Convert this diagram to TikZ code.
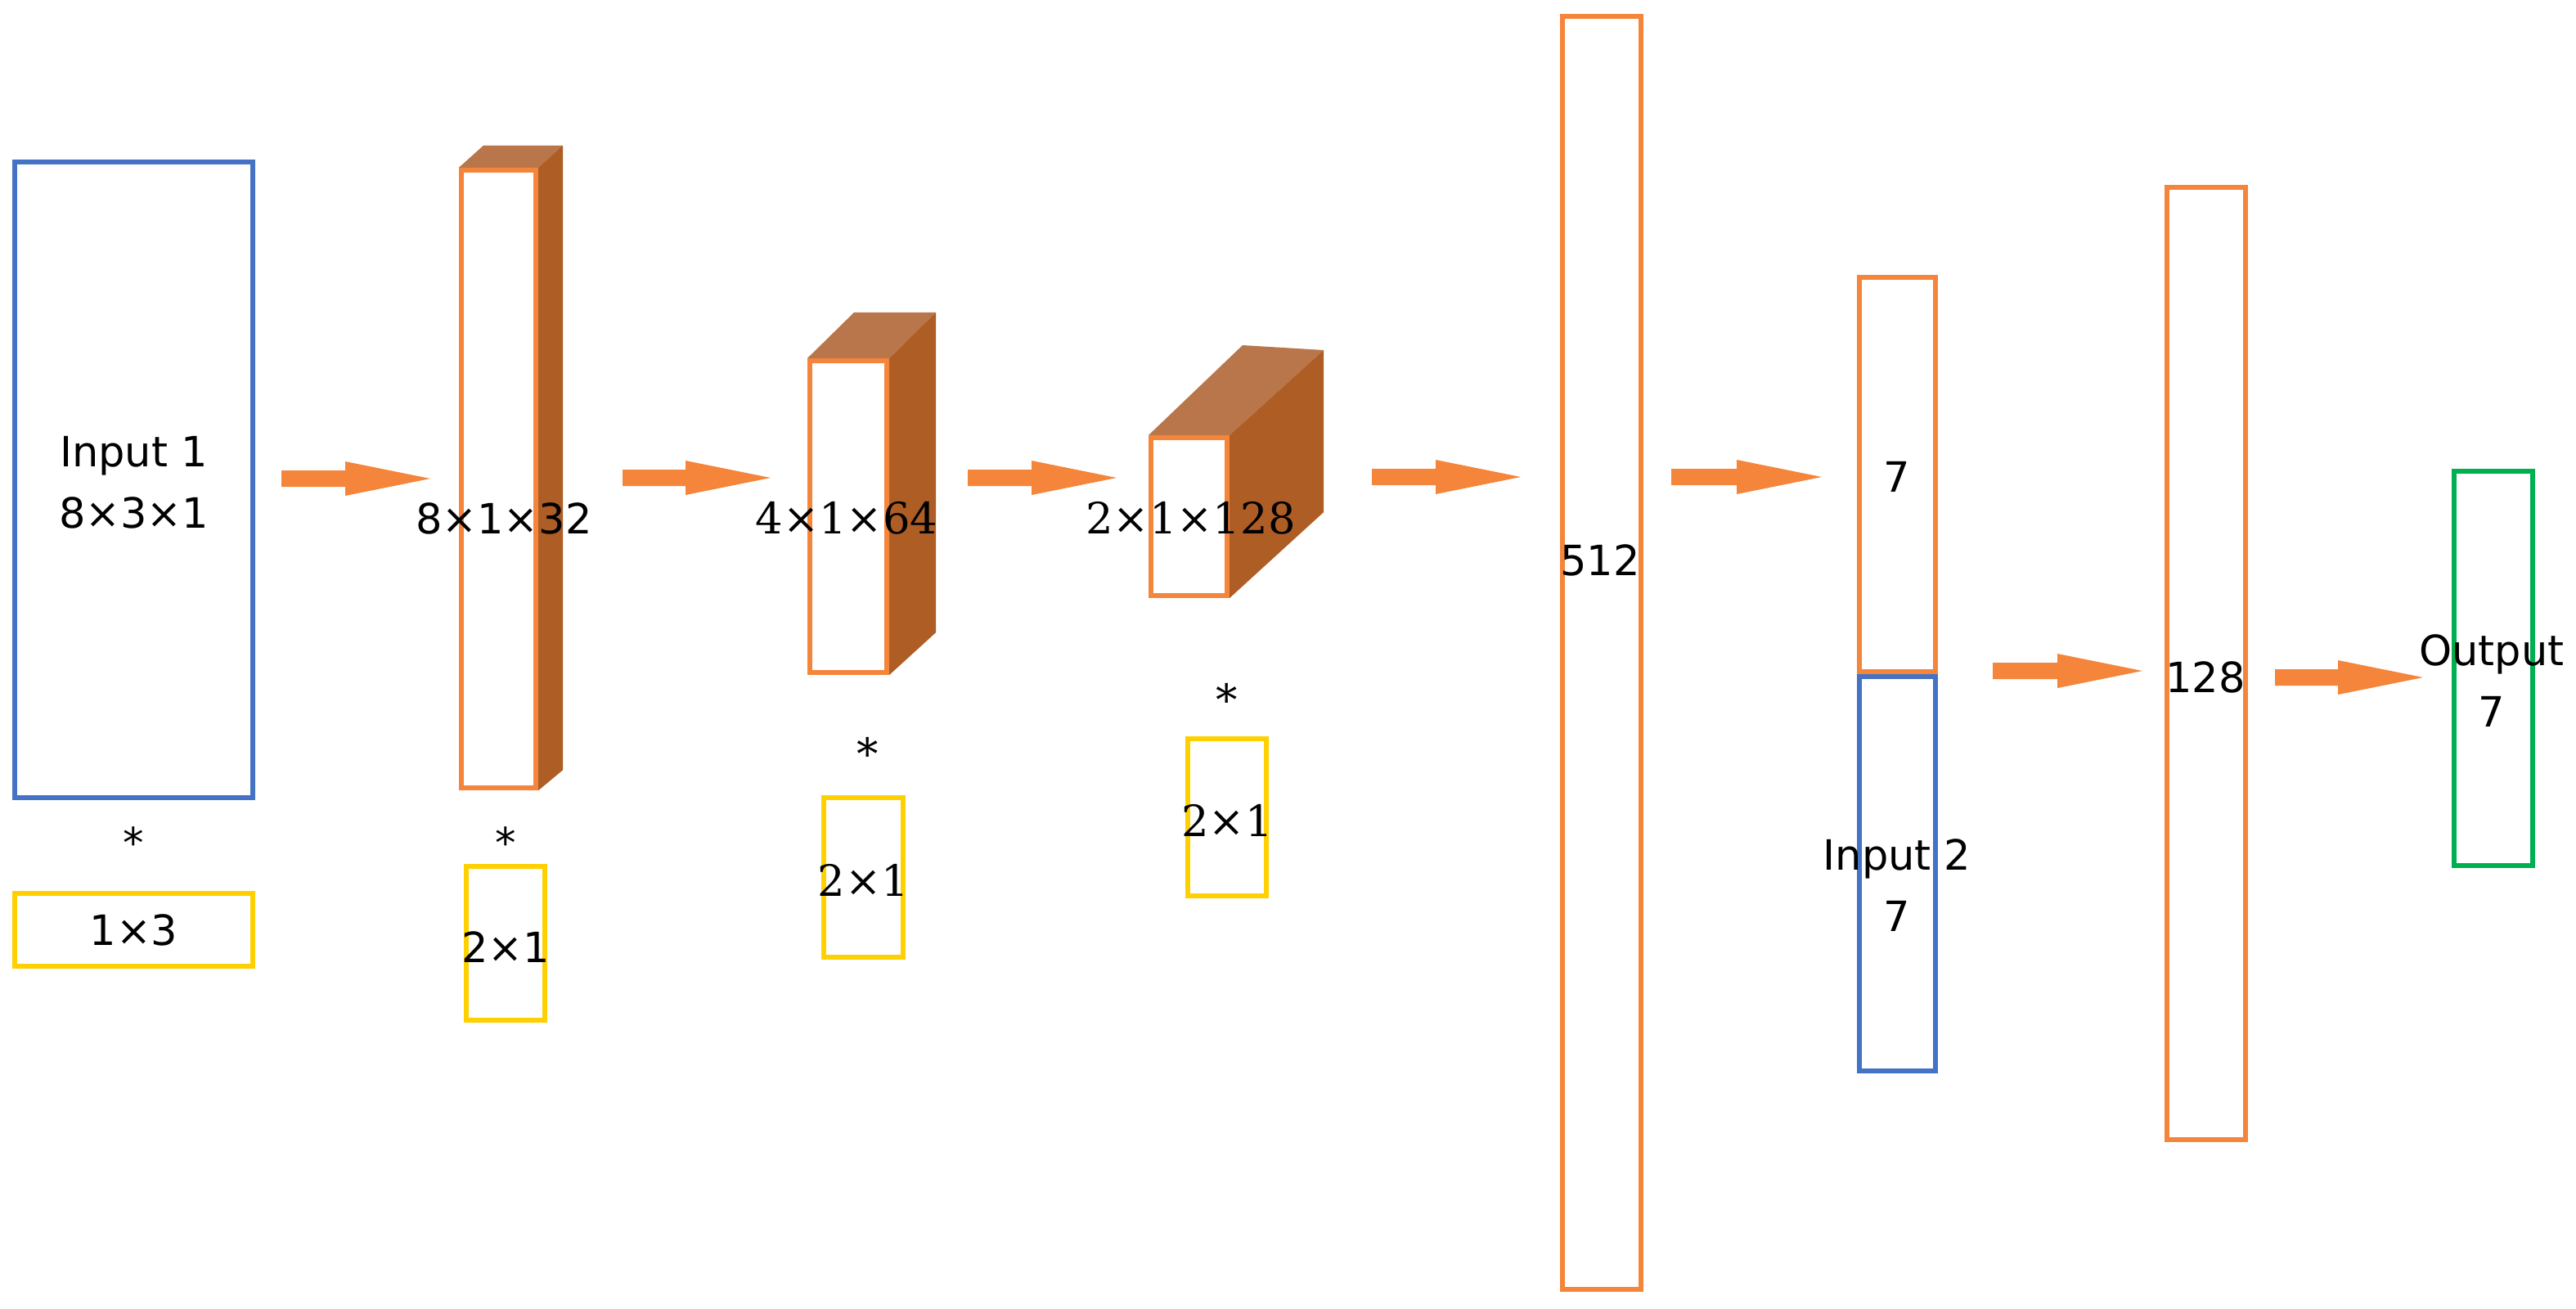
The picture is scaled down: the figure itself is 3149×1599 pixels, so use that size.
\documentclass[tikz,border=0pt]{standalone}
\usepackage{fontspec}
\newfontfamily\sansf{DejaVu Sans}
\newfontfamily\seriff{DejaVu Serif}
\usetikzlibrary{calc,backgrounds}
\definecolor{cblue}{HTML}{4472C4}
\definecolor{corange}{HTML}{F4853A}
\definecolor{cyellow}{HTML}{FFD000}
\definecolor{cgreen}{HTML}{00B050}
\definecolor{ctop}{HTML}{B8764A}
\definecolor{cside}{HTML}{AE5D24}
\tikzset{
  boxb/.style={draw, line width=1.7pt, fill=white, inner sep=0pt},
  bluebox/.style={boxb, draw=cblue},
  orangebox/.style={boxb, draw=corange},
  yellowbox/.style={boxb, draw=cyellow},
  greenbox/.style={boxb, draw=cgreen},
  sanslab/.style={font=\sansf\fontsize{14.5}{21.3}\selectfont, align=center, inner sep=0pt},
  seriflab/.style={font=\seriff\fontsize{15}{21}\selectfont, align=center, inner sep=0pt},
  fatarrow/.style={fill=corange, draw=none},
  topface/.style={fill=ctop, draw=none},
  sideface/.style={fill=cside, draw=none},
}
% block arrow from named coordinate #1 to named coordinate #2
\newcommand\fatarr[2]{%
  \path[fatarrow] ($(#1)+(0,-10)$) -- ($(#2)+(-104,-10)$) -- ($(#2)+(-104,-21)$) -- (#2)
     -- ($(#2)+(-104,21)$) -- ($(#2)+(-104,10)$) -- ($(#1)+(0,10)$) -- cycle;}
\begin{document}
\begin{tikzpicture}[x=0.01cm,y=-0.01cm]
\useasboundingbox (0,0) rectangle (3149,1599);
\begin{scope}[on background layer]
\fill[white] (0,0) rectangle (3149,1599);
\end{scope}

% input 1 and kernel
\node[bluebox, minimum width=2.91cm, minimum height=7.77cm] (in1) at (163.5,586.5) {};
\node[sanslab] (in1lab) at (163.5,590) {Input 1\\8×3×1};
\node[sanslab] (st1) at (163,1030) {*};
\node[yellowbox, minimum width=2.91cm, minimum height=0.89cm] (k1) at (163.5,1136.5) {};
\node[sanslab] (k1lab) at (163.5,1137) {1×3};

% conv block 1
\node[orangebox, minimum width=0.91cm, minimum height=7.55cm] (c1) at (609.5,585.5) {};
\begin{scope}[on background layer]
\fill[topface] (c1.north west) -- ++(30,-27) -- ($(c1.north east)+(30,-27)$) -- (c1.north east) -- cycle;
\fill[sideface] (c1.north east) -- ++(30,-27) -- ($(c1.south east)+(30,-25)$) -- (c1.south east) -- cycle;
\end{scope}
\node[sanslab] (c1lab) at (616,634) {8×1×32};
\node[sanslab] (st2) at (618,1030) {*};
\node[yellowbox, minimum width=0.96cm, minimum height=1.88cm] (k2) at (618,1153) {};
\node[sanslab] (k2lab) at (618,1158) {2×1};

% conv block 2
\node[orangebox, minimum width=0.94cm, minimum height=3.81cm] (c2) at (1037,631.5) {};
\begin{scope}[on background layer]
\fill[topface] (c2.north west) -- ++(57,-56) -- ($(c2.north east)+(57,-56)$) -- (c2.north east) -- cycle;
\fill[sideface] (c2.north east) -- ++(57,-56) -- ($(c2.south east)+(57,-52)$) -- (c2.south east) -- cycle;
\end{scope}
\node[seriflab] (c2lab) at (1035,633) {4×1×64};
\node[seriflab] (st3) at (1061,921) {*};
\node[yellowbox, minimum width=0.97cm, minimum height=1.95cm] (k3) at (1055.5,1072.5) {};
\node[seriflab] (k3lab) at (1055.5,1076) {2×1};

% conv block 3
\node[orangebox, minimum width=0.93cm, minimum height=1.93cm] (c3) at (1453.5,631.5) {};
\begin{scope}[on background layer]
\fill[topface] (c3.north west) -- ++(115,-110) -- ($(c3.north east)+(115,-104)$) -- (c3.north east) -- cycle;
\fill[sideface] (c3.north east) -- ++(115,-104) -- ($(c3.south east)+(115,-105)$) -- (c3.south east) -- cycle;
\end{scope}
\node[seriflab] (c3lab) at (1455.5,633) {2×1×128};
\node[seriflab] (st4) at (1500,855) {*};
\node[yellowbox, minimum width=0.96cm, minimum height=1.92cm] (k4) at (1500,999) {};
\node[seriflab] (k4lab) at (1500,1003) {2×1};

% dense layers
\node[orangebox, minimum width=0.96cm, minimum height=15.56cm] (d512) at (1958,798) {};
\node[sanslab] (d512lab) at (1956,685) {512};
\node[orangebox, minimum width=0.93cm, minimum height=4.82cm] (d7) at (2319.5,580) {};
\node[bluebox, minimum width=0.93cm, minimum height=4.82cm] (in2) at (2319.5,1068) {};
\node[sanslab] (d7lab) at (2319,583) {7};
\node[sanslab] (in2lab) at (2319,1082) {Input 2\\7};
\node[orangebox, minimum width=0.96cm, minimum height=11.64cm] (d128) at (2697,811) {};
\node[sanslab] (d128lab) at (2696,828) {128};
\node[greenbox, minimum width=0.96cm, minimum height=4.82cm] (out) at (3048,817) {};
\node[sanslab] (outlab) at (3046,832) {Output\\7};

% arrows
\coordinate (a1s) at (344,585);  \coordinate (a1e) at (526,585);
\coordinate (a2s) at (761,584);  \coordinate (a2e) at (942,584);
\coordinate (a3s) at (1183,584); \coordinate (a3e) at (1365,584);
\coordinate (a4s) at (1677,583); \coordinate (a4e) at (1859,583);
\coordinate (a5s) at (2043,583); \coordinate (a5e) at (2227,583);
\coordinate (a6s) at (2436,820); \coordinate (a6e) at (2619,820);
\coordinate (a7s) at (2781,828); \coordinate (a7e) at (2962,828);
\fatarr{a1s}{a1e}
\fatarr{a2s}{a2e}
\fatarr{a3s}{a3e}
\fatarr{a4s}{a4e}
\fatarr{a5s}{a5e}
\fatarr{a6s}{a6e}
\fatarr{a7s}{a7e}
\end{tikzpicture}
\end{document}
